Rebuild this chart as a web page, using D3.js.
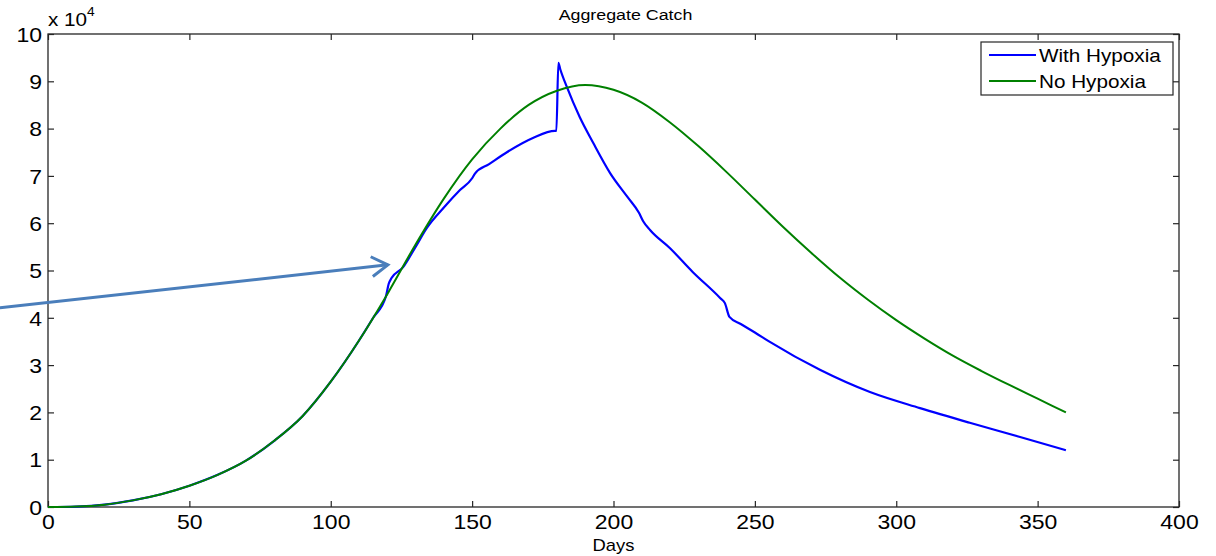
<!DOCTYPE html>
<html><head><meta charset="utf-8">
<script src="https://cdn.jsdelivr.net/npm/d3@7"></script>
<style>
html,body{margin:0;padding:0;background:#fff;}
svg text{font-family:Arial,"Liberation Sans",sans-serif;fill:#000;}
</style></head>
<body><svg id="c" width="1216" height="556"></svg>
<script>
// ---- data (values in units of 10^4) ----
const greenDays = [0,10,20,30,40,50,60,70,80,90,100,110,120,130,140,150,160,170,180,190,200,210,220,230,240,250,260,270,280,290,300,310,320,330,340,350,360];
const greenVals = [0,0.01,0.05,0.14,0.27,0.45,0.68,0.98,1.4,1.92,2.65,3.52,4.5,5.55,6.52,7.35,8.0,8.5,8.8,8.92,8.82,8.55,8.13,7.63,7.08,6.5,5.92,5.37,4.85,4.38,3.95,3.56,3.2,2.88,2.58,2.29,2.0];
const blueDays = [0,10,20,30,40,50,60,70,80,90,100,110,115,119.5,120.5,121.5,125.6,130,134,140,145.7,150,151,156,162.3,171.5,179.3,179.8,180.5,181.2,183.5,188,192.8,198.8,205,209,210.5,213,220,228,237.7,239.4,241,245,250,255.3,273,290.7,308.4,326,343.8,360];
const blueVals = [0,0.01,0.05,0.14,0.27,0.45,0.68,0.98,1.4,1.92,2.65,3.52,4.0,4.45,4.72,4.84,5.07,5.5,5.9,6.33,6.7,6.95,7.05,7.25,7.5,7.8,7.95,7.95,9.39,9.25,8.88,8.25,7.7,7.06,6.55,6.22,6.04,5.85,5.47,4.97,4.42,4.31,4.02,3.87,3.69,3.49,2.9,2.43,2.09,1.78,1.48,1.2];
const seriesNames = ["With Hypoxia","No Hypoxia"];
const xTicks = [0,50,100,150,200,250,300,350,400];
const yTicks = [0,1,2,3,4,5,6,7,8,9,10];
const arrowFrom = [-17, 4.21];   // [day, value]
const arrowTo = [120.2, 5.12];

const W=1216,H=556, m={l:48,r:37,t:34,b:49};
const svg=d3.select("#c");
const x=d3.scaleLinear().domain([0,400]).range([m.l,W-m.r]);
const y=d3.scaleLinear().domain([0,10]).range([H-m.b,m.t]);
const SX=1.15, FS=20;

// frame
svg.append("rect").attr("x",x(0)).attr("y",y(10)).attr("width",x(400)-x(0)).attr("height",y(0)-y(10))
  .attr("fill","#fff").attr("stroke","#262626").attr("stroke-width",1.3);

// axes
const gx=svg.append("g").attr("transform",`translate(0,${y(0)})`)
  .call(d3.axisBottom(x).tickValues(xTicks).tickSize(-6).tickPadding(7).tickFormat(d3.format("d")));
const gxt=svg.append("g").attr("transform",`translate(0,${y(10)})`)
  .call(d3.axisTop(x).tickValues(xTicks).tickSize(-6).tickFormat(""));
const gy=svg.append("g").attr("transform",`translate(${x(0)},0)`)
  .call(d3.axisLeft(y).tickValues(yTicks).tickSize(-6).tickPadding(8).tickFormat(d3.format("d")));
const gyr=svg.append("g").attr("transform",`translate(${x(400)},0)`)
  .call(d3.axisRight(y).tickValues(yTicks).tickSize(-6).tickFormat(""));
[gx,gxt,gy,gyr].forEach(g=>{g.select(".domain").remove();g.selectAll("line").attr("stroke","#262626").attr("stroke-width",1.2);});
gx.selectAll("text").attr("font-size",FS).attr("font-family","Arial,'Liberation Sans'").attr("fill","#000")
  .attr("transform",`scale(${SX},1)`).attr("dy","0.75em");
gy.selectAll("text").attr("font-size",FS).attr("font-family","Arial,'Liberation Sans'").attr("fill","#000")
  .attr("transform",`scale(${SX},1)`).attr("x",-6/SX).attr("dy","0.36em");

// exponent label
const ex=svg.append("text").attr("transform",`translate(${x(0)},${y(10)-8}) scale(${SX},1)`).attr("font-size",18);
ex.append("tspan").text("x 10");
ex.append("tspan").text("4").attr("font-size",12).attr("dy",-10);

// title and x label
svg.append("text").attr("transform",`translate(${(x(0)+x(400))/2+12},${20}) scale(${SX},1)`).attr("text-anchor","middle").attr("font-size",15.5).text("Aggregate Catch");
svg.append("text").attr("transform",`translate(${(x(0)+x(400))/2},${551}) scale(${SX},1)`).attr("text-anchor","middle").attr("font-size",16).text("Days");

// lines (green drawn last, on top)
const line=(ds,vs)=>d3.line().x((d,i)=>x(ds[i])).y((d,i)=>y(vs[i])).curve(d3.curveMonotoneX)(ds);
svg.append("path").attr("d",line(blueDays,blueVals)).attr("fill","none").attr("stroke","#0000ff").attr("stroke-width",2.2);
svg.append("path").attr("d",line(greenDays,greenVals)).attr("fill","none").attr("stroke","#008000").attr("stroke-width",2);

// arrow annotation
const ax0=x(arrowFrom[0]),ay0=y(arrowFrom[1]),ax1=x(arrowTo[0]),ay1=y(arrowTo[1]);
svg.append("line").attr("x1",ax0).attr("y1",ay0).attr("x2",ax1).attr("y2",ay1).attr("stroke","#4a7ebb").attr("stroke-width",3);
const ang=Math.atan2(ay1-ay0,ax1-ax0), L=19, a=0.55;
const p1=[ax1-L*Math.cos(ang-a),ay1-L*Math.sin(ang-a)], p2=[ax1-L*Math.cos(ang+a),ay1-L*Math.sin(ang+a)];
svg.append("path").attr("d",`M${p1}L${ax1},${ay1}L${p2}`).attr("fill","none").attr("stroke","#4a7ebb").attr("stroke-width",3).attr("stroke-linejoin","miter");

// legend
const lg=svg.append("g");
lg.append("rect").attr("x",981).attr("y",42).attr("width",192).attr("height",53).attr("fill","#fff").attr("stroke","#262626").attr("stroke-width",1.2);
const cols=["#0000ff","#008000"];
seriesNames.forEach((n,i)=>{
  const yy=55+i*26;
  lg.append("line").attr("x1",989).attr("x2",1036).attr("y1",yy).attr("y2",yy).attr("stroke",cols[i]).attr("stroke-width",2);
  lg.append("text").attr("transform",`translate(1039,${yy+6.5}) scale(${SX},1)`).attr("font-size",18).text(n);
});
</script></body></html>
